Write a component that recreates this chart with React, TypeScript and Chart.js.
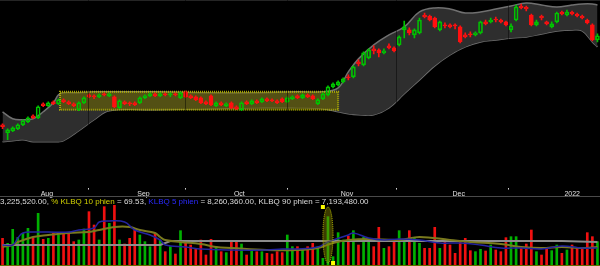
import React, { useEffect, useRef } from "react";
import { Chart, registerables } from "chart.js";

Chart.register(...registerables);

// ---------- DATA (price units: arbitrary, volume: millions of shares) ----------
const candleOpen = [
  65, 57, 59, 61, 65, 68, 74, 72, 86, 84,
  88, 86, 90, 88, 86, 80, 87, 95, 94, 93,
  96, 94, 93, 82, 88, 87, 87, 87, 92, 94,
  96, 94, 96, 95, 96, 92, 98, 94, 93, 92,
  88, 94, 84, 87, 84, 87, 83, 80, 88, 86,
  89, 88, 91, 90, 89, 91, 88, 91, 94, 92,
  95, 94, 86, 91, 95, 103, 105, 108, 113, 113,
  128, 125, 132, 141, 140, 137, 144, 142, 145, 160,
  160, 155, 157, 175, 174, 172, 160, 165, 165, 165,
  163, 155, 156, 155, 157, 168, 168, 171, 170, 168,
  160, 170, 184, 183, 175, 165, 174, 168, 163, 168,
  178, 175, 178, 176, 174, 170, 165, 150,
];
const candleClose = [
  63, 60, 62, 65, 69, 72, 72, 83, 84, 87,
  86, 90, 88, 86, 84, 87, 92, 93, 93, 95,
  95, 96, 83, 89, 86, 86, 85, 92, 94, 96,
  94, 96, 95, 96, 95, 97, 93, 92, 90, 87,
  86, 85, 87, 85, 86, 82, 81, 87, 86, 89,
  87, 91, 89, 89, 87, 88, 92, 93, 92, 95,
  93, 91, 90, 96, 103, 106, 108, 111, 112, 123,
  126, 137, 140, 139, 137, 139, 142, 139, 153, 163,
  157, 160, 170, 173, 170, 163, 168, 164, 163, 164,
  148, 153, 155, 157, 168, 166, 170, 170, 168, 165,
  164, 183, 182, 181, 165, 168, 172, 166, 166, 177,
  176, 178, 176, 174, 172, 167, 150, 154,
];
const candleHigh = [
  66, 61, 63, 66, 70, 73, 75, 84, 87, 88,
  89, 91, 91, 89, 87, 88, 93, 96, 95, 96,
  97, 97, 94, 90, 89, 88, 88, 93, 95, 97,
  97, 97, 97, 97, 97, 98, 99, 95, 94, 93,
  89, 95, 88, 88, 87, 88, 84, 88, 89, 90,
  90, 92, 92, 91, 90, 92, 93, 94, 95, 96,
  96, 95, 91, 97, 104, 107, 109, 112, 115, 124,
  130, 138, 141, 144, 141, 141, 146, 143, 154, 169,
  162, 161, 172, 177, 175, 173, 169, 167, 166, 166,
  164, 157, 158, 158, 169, 170, 172, 173, 171, 169,
  166, 185, 186, 184, 176, 170, 175, 169, 168, 178,
  179, 180, 179, 177, 175, 171, 166, 156,
];
const candleLow = [
  61, 50, 58, 60, 64, 67, 71, 71, 83, 83,
  85, 85, 87, 85, 83, 79, 86, 92, 91, 92,
  94, 93, 82, 81, 85, 84, 84, 86, 91, 93,
  93, 93, 94, 93, 94, 91, 92, 91, 89, 86,
  85, 84, 83, 84, 83, 81, 80, 79, 85, 85,
  86, 87, 88, 88, 86, 87, 87, 90, 91, 91,
  92, 90, 85, 90, 94, 102, 104, 107, 110, 112,
  124, 124, 131, 136, 133, 136, 141, 138, 144, 152,
  155, 152, 156, 172, 169, 162, 159, 162, 162, 161,
  147, 152, 153, 154, 156, 165, 167, 168, 167, 164,
  158, 169, 181, 179, 164, 164, 170, 165, 162, 167,
  175, 174, 175, 173, 171, 166, 149, 148,
];
const volume = [
  8.0, 6.5, 10.7, 8.3, 9.5, 11.0, 8.0, 15.5, 7.7, 8.0,
  9.5, 9.0, 9.5, 9.5, 7.0, 7.5, 10.8, 16.0, 12.0, 7.5,
  17.5, 12.5, 18.0, 7.5, 6.3, 8.0, 10.7, 9.0, 7.0, 5.5,
  9.5, 7.5, 4.0, 5.5, 3.3, 10.3, 6.5, 6.0, 5.0, 7.5,
  3.0, 7.7, 5.5, 4.0, 3.7, 7.0, 7.2, 6.3, 3.0, 4.5,
  4.0, 4.0, 3.5, 3.3, 4.0, 3.7, 9.0, 5.5, 5.5, 4.5,
  5.5, 6.5, 5.5, 2.0, 14.5, 2.5, 9.7, 7.5, 8.7, 10.3,
  6.0, 8.3, 7.0, 5.5, 11.3, 5.0, 5.5, 7.0, 10.3, 7.0,
  10.3, 8.3, 6.5, 5.0, 5.0, 11.3, 5.0, 7.0, 6.0, 3.5,
  7.3, 8.0, 4.3, 4.0, 4.7, 4.2, 6.0, 4.5, 4.0, 8.2,
  8.5, 8.5, 5.0, 6.3, 10.5, 4.0, 3.0, 5.0, 4.3, 6.0,
  3.5, 4.5, 6.0, 5.0, 5.0, 9.7, 8.5, 7.0,
];

// Bollinger band (sampled at bar indices)
const bandIdx = [0, 2, 4, 6, 8, 10, 11, 12, 15, 18, 21, 30, 40, 50, 58, 63, 66, 68, 70, 73, 76, 79, 82, 85, 88, 91, 94, 97, 100, 103, 106, 109, 112, 114, 116, 117];
const bandUpper = [78, 71, 70, 71, 78, 87, 95, 97, 97, 98, 98, 98, 97, 97, 98, 98, 102, 118, 131, 145, 155, 163, 178, 182, 181, 177, 178, 181, 184, 187, 185, 183, 185, 186, 186, 185];
const bandLower = [48, 49, 50, 48, 48, 48, 48, 49, 59, 70, 79, 80, 81, 82, 82, 81, 78, 76, 75, 75, 82, 96, 110, 124, 135, 143, 148, 150, 152, 153, 156, 159, 160, 159, 148, 143];

// Volume averages (millions)
const ma5Idx = [0, 2, 3, 4, 6, 9, 13, 15, 18, 19, 21, 24, 26, 29, 31, 32, 36, 39, 45, 52, 55, 58, 62, 64, 68, 69, 72, 75, 78, 82, 86, 90, 94, 98, 102, 106, 110, 114, 117];
const ma5Val = [6.0, 6.0, 8.1, 9.6, 9.9, 9.9, 9.9, 10.5, 11.1, 12.9, 13.2, 12.9, 10.5, 9.0, 7.5, 6.0, 5.4, 4.8, 4.5, 4.5, 4.8, 4.8, 5.4, 6.9, 9.0, 9.6, 8.1, 7.5, 7.8, 7.5, 6.6, 6.6, 6.0, 5.1, 5.1, 4.8, 5.7, 5.1, 5.1];
const ma10Idx = [0, 2, 3, 6, 9, 13, 17, 19, 22, 25, 27, 30, 31, 32, 35, 39, 42, 45, 52, 58, 62, 65, 68, 72, 78, 82, 88, 92, 98, 102, 106, 110, 114, 117];
const ma10Val = [5.4, 6.0, 6.9, 8.4, 9.0, 9.6, 9.9, 10.5, 11.4, 11.4, 10.5, 9.6, 8.4, 7.5, 6.9, 6.3, 5.4, 5.1, 4.5, 4.5, 5.1, 6.6, 7.5, 7.8, 7.5, 8.4, 7.5, 6.9, 6.3, 5.4, 5.1, 5.4, 5.1, 5.4];
const ma90Idx = [0, 31, 33, 110, 117];
const ma90Val = [6.0, 6.0, 7.2, 7.2, 6.9];

// Month ticks (bar-index positions) and labels
const monthTickPos = [7.5, 26.5, 45.5, 66.5, 88.5, 110.5];
const monthLabels = ["Aug", "Sep", "Oct", "Nov", "Dec", "2022"];

// Highlight annotations: [fromIndex, toIndex, lowValue, highValue]
const priceBox = [11.3, 66, 80, 98];
const volEllipse = [63, 65, 0.6, 17.4];

// ---------- STYLE ----------
const UP = "#00c400";
const DOWN = "#ff1010";
const VUP = "#00b000";
const VDOWN = "#f01010";
const N = candleOpen.length;
const isUp = candleOpen.map((o, i) => candleClose[i] >= o);

const boxPlugin = {
  id: "priceBox",
  afterDatasetDraw(chart: any, args: any) {
    if (args.index !== 2) return;
    const { ctx, scales } = chart;
    const x1 = scales.x.getPixelForValue(priceBox[0]);
    const x2 = scales.x.getPixelForValue(priceBox[1]);
    const y1 = scales.y.getPixelForValue(priceBox[3]);
    const y2 = scales.y.getPixelForValue(priceBox[2]);
    ctx.save();
    ctx.fillStyle = "rgba(115,110,0,0.55)";
    ctx.fillRect(x1, y1, x2 - x1, y2 - y1);
    ctx.setLineDash([1, 1]);
    ctx.lineWidth = 2;
    ctx.strokeStyle = "rgba(190,190,0,0.85)";
    ctx.strokeRect(x1, y1, x2 - x1, y2 - y1);
    ctx.restore();
  },
  afterDraw(chart: any) {
    const { ctx } = chart;
    const y = chart.height - 1.5;
    ctx.save();
    ctx.strokeStyle = "#4a4a4a";
    ctx.lineWidth = 1;
    ctx.beginPath();
    ctx.moveTo(0, y);
    ctx.lineTo(chart.width, y);
    ctx.stroke();
    ctx.restore();
  },
};

const ellipsePlugin = {
  id: "volEllipse",
  afterDraw(chart: any) {
    const { ctx, scales, chartArea } = chart;
    ctx.save();
    ctx.strokeStyle = "#6b6b00";
    ctx.lineWidth = 1;
    ctx.beginPath();
    ctx.moveTo(0, chartArea.bottom + 0.5);
    ctx.lineTo(chart.width, chartArea.bottom + 0.5);
    ctx.stroke();
    const x1 = scales.x.getPixelForValue(volEllipse[0]);
    const x2 = scales.x.getPixelForValue(volEllipse[1]);
    const yb = scales.y.getPixelForValue(volEllipse[2]);
    const yt = scales.y.getPixelForValue(volEllipse[3]);
    ctx.beginPath();
    ctx.ellipse((x1 + x2) / 2, (yt + yb) / 2, (x2 - x1) / 2, (yb - yt) / 2, 0, 0, Math.PI * 2);
    ctx.fillStyle = "rgba(130,130,0,0.45)";
    ctx.fill();
    ctx.setLineDash([1, 1]);
    ctx.strokeStyle = "rgba(200,200,0,0.9)";
    ctx.stroke();
    ctx.setLineDash([]);
    ctx.fillStyle = "#ffff00";
    ctx.fillRect(x1 - 2, yt - 2, 4, 4);
    ctx.fillRect(x2 - 2, yb - 2, 4, 4);
    ctx.restore();
  },
};

function PriceChart() {
  const ref = useRef<HTMLCanvasElement>(null);
  useEffect(() => {
    if (!ref.current) return;
    const chart = new Chart(ref.current, {
      type: "bar",
      data: {
        datasets: [
          {
            type: "bar",
            data: candleOpen.map((o, i) => ({ x: i, y: [o, candleClose[i]] })) as any,
            backgroundColor: isUp.map((u) => (u ? "rgba(0,0,0,0)" : DOWN)),
            borderColor: isUp.map((u) => (u ? UP : DOWN)),
            borderWidth: 1,
            borderSkipped: false,
            barThickness: 4,
            grouped: false,
            order: 0,
          } as any,
          {
            type: "bar",
            data: candleOpen.map((o, i) => ({ x: i, y: [Math.max(o, candleClose[i]), candleHigh[i]] })) as any,
            backgroundColor: isUp.map((u) => (u ? UP : DOWN)),
            barThickness: 1,
            grouped: false,
            order: 1,
          } as any,
          {
            type: "line",
            data: bandIdx.map((x, k) => ({ x, y: bandUpper[k] })) as any,
            borderColor: "#707070",
            borderWidth: 1.5,
            pointRadius: 0,
            tension: 0.4,
            fill: "+1",
            backgroundColor: "#2e2e2e",
            order: 2,
          } as any,
          {
            type: "line",
            data: bandIdx.map((x, k) => ({ x, y: bandLower[k] })) as any,
            borderColor: "#707070",
            borderWidth: 1.5,
            pointRadius: 0,
            tension: 0.4,
            fill: false,
            order: 3,
          } as any,
          {
            type: "bar",
            data: candleOpen.map((o, i) => ({ x: i, y: [candleLow[i], Math.min(o, candleClose[i])] })) as any,
            backgroundColor: isUp.map((u) => (u ? UP : DOWN)),
            barThickness: 1,
            grouped: false,
            order: 1,
          } as any,
        ],
      },
      options: {
        animation: false,
        responsive: false,
        devicePixelRatio: 1,
        layout: { padding: 0 },
        plugins: { legend: { display: false }, tooltip: { enabled: false } },
        scales: {
          x: {
            type: "linear",
            min: -0.5,
            max: N - 0.5,
            offset: false,
            afterBuildTicks: (axis: any) => {
              axis.ticks = monthTickPos.map((v) => ({ value: v }));
            },
            grid: {
              display: true,
              color: "rgba(0,0,0,0.45)",
              z: 1,
              drawTicks: true,
              tickLength: 2,
              tickColor: "#cfcfcf",
            },
            border: { display: true, color: "#4a4a4a" },
            ticks: {
              autoSkip: false,
              maxRotation: 0,
              minRotation: 0,
              align: "start",
              padding: 0,
              color: "#e0e0e0",
              font: { size: 7, family: "'Liberation Sans', Arial, sans-serif" },
              callback: (_v: any, idx: number) => monthLabels[idx],
            },
          } as any,
          y: { display: false, min: 2, max: 190 },
        },
      },
      plugins: [boxPlugin],
    });
    return () => chart.destroy();
  }, []);
  return <canvas ref={ref} width={600} height={198} style={{ position: "absolute", left: 0, top: 0 }} />;
}

function VolumeChart() {
  const ref = useRef<HTMLCanvasElement>(null);
  useEffect(() => {
    if (!ref.current) return;
    const chart = new Chart(ref.current, {
      type: "bar",
      data: {
        datasets: [
          {
            type: "bar",
            data: volume.map((v, i) => ({ x: i, y: v })) as any,
            backgroundColor: isUp.map((u) => (u ? VUP : VDOWN)),
            barThickness: 2,
            grouped: false,
            order: 3,
          } as any,
          {
            type: "line",
            data: ma90Idx.map((x, k) => ({ x, y: ma90Val[k] })) as any,
            borderColor: "#8c8c8c",
            borderWidth: 2,
            pointRadius: 0,
            order: 2,
          } as any,
          {
            type: "line",
            data: ma10Idx.map((x, k) => ({ x, y: ma10Val[k] })) as any,
            borderColor: "#7a7a1e",
            borderWidth: 2,
            pointRadius: 0,
            tension: 0.4,
            order: 1,
          } as any,
          {
            type: "line",
            data: ma5Idx.map((x, k) => ({ x, y: ma5Val[k] })) as any,
            borderColor: "#2424a0",
            borderWidth: 1.5,
            pointRadius: 0,
            tension: 0.4,
            order: 0,
          } as any,
        ],
      },
      options: {
        animation: false,
        responsive: false,
        devicePixelRatio: 1,
        layout: { padding: { bottom: 1 } },
        plugins: { legend: { display: false }, tooltip: { enabled: false } },
        scales: {
          x: { type: "linear", min: -0.5, max: N - 0.5, offset: false, display: false } as any,
          y: { display: false, min: 0, max: 18 },
        },
      },
      plugins: [ellipsePlugin],
    });
    return () => chart.destroy();
  }, []);
  return <canvas ref={ref} width={600} height={61} style={{ position: "absolute", left: 0, top: 205 }} />;
}

export default function App() {
  const white = "#dcdcdc";
  return (
    <div
      style={{
        position: "fixed",
        left: 0,
        top: 0,
        width: 600,
        height: 266,
        background: "#000",
        overflow: "hidden",
      }}
    >
      <PriceChart />
      <div
        style={{
          position: "absolute",
          left: 0,
          top: 197,
          fontFamily: "'Liberation Sans', Arial, sans-serif",
          fontSize: 8,
          lineHeight: "9px",
          whiteSpace: "nowrap",
          color: white,
        }}
      >
        <span>3,225,520.00, </span>
        <span style={{ color: "#d2d200" }}>% KLBQ 10 phien</span>
        <span> = 69.53, </span>
        <span style={{ color: "#2a2aff" }}>KLBQ 5 phien</span>
        <span> = 8,260,360.00, KLBQ 90 phien = 7,193,480.00</span>
      </div>
      <VolumeChart />
    </div>
  );
}
